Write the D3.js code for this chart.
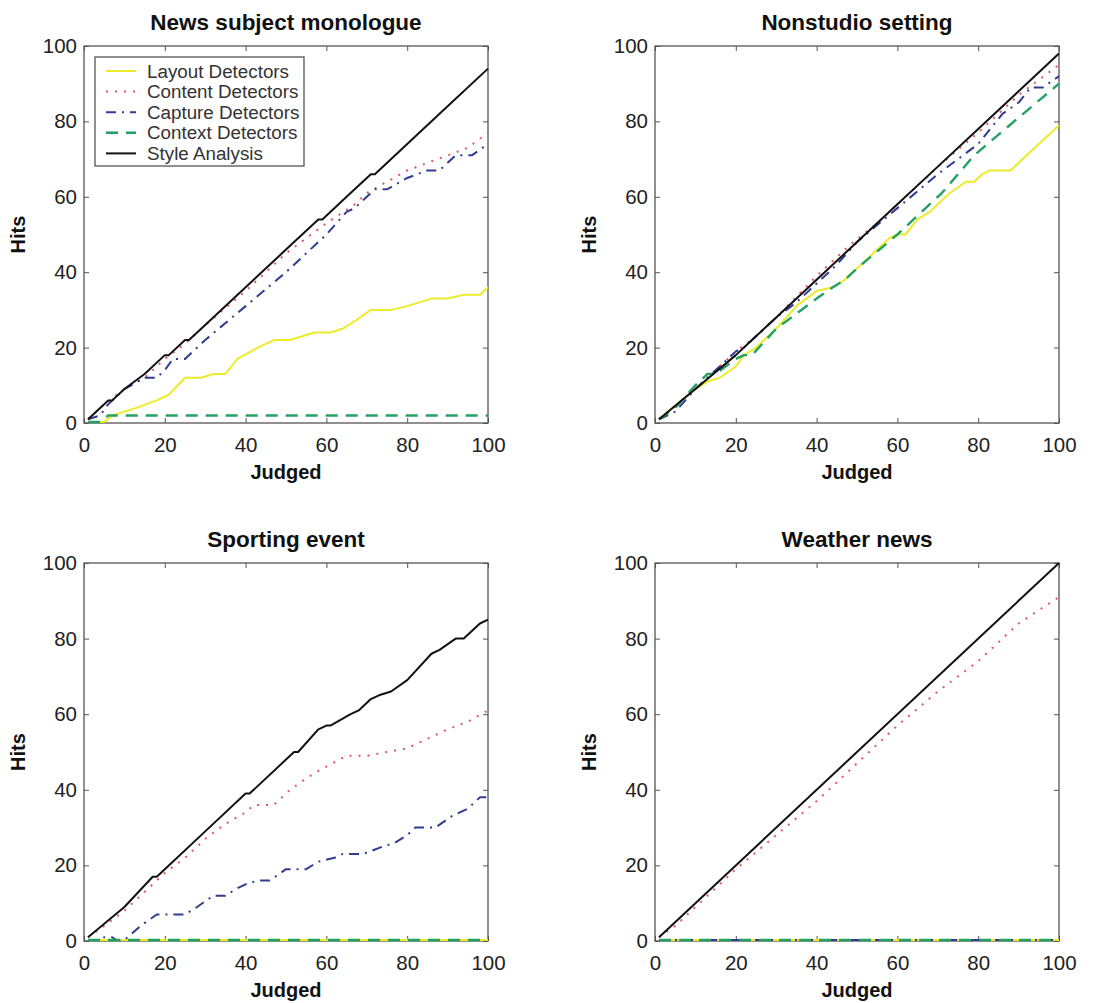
<!DOCTYPE html>
<html>
<head>
<meta charset="utf-8">
<script src="https://cdn.jsdelivr.net/npm/d3@7"></script>
<style>
  html, body { margin: 0; padding: 0; background: #fff; }
  svg { display: block; }
  text { font-family: "Liberation Sans", Arial, Helvetica, sans-serif; }
</style>
</head>
<body>
<svg id="chart" width="1097" height="1003"></svg>
<script>
// ---------------- DATA ----------------
const panelTitles = ["News subject monologue", "Nonstudio setting", "Sporting event", "Weather news"];
const seriesNames = ["Layout Detectors", "Content Detectors", "Capture Detectors", "Context Detectors", "Style Analysis"];
const xTicks = [0, 20, 40, 60, 80, 100];
const yTicks = [0, 20, 40, 60, 80, 100];
const xLabel = "Judged";
const yLabel = "Hits";

// News subject monologue  ([judged, hits])
const newsLayout  = [[1,0],[5,0],[7,2],[13,4],[18,6],[21,7.5],[25,12],[29,12],[32,13],[35,13],[38,17],[43,20],[47,22],[51,22],[54,23],[57,24],[61,24],[64,25],[67,27],[71,30],[76,30],[80,31],[83,32],[86,33],[90,33],[94,34],[98,34],[100,36]];
const newsContent = [[1,1],[5,5],[10,9],[15,12],[20,17],[25,21],[30,26],[40,35],[50,45],[60,53],[67,58],[70,61],[75,64],[80,67],[85,69],[90,71],[95,73],[100,77]];
const newsCapture = [[1,1],[4,2],[6,5],[10,9],[15,12],[18,12],[20,14],[22,17],[25,17],[30,22],[40,31],[50,40],[60,50],[65,56],[67,57],[70,60],[72,62],[75,62],[80,65],[85,67],[88,67],[92,71],[96,71],[100,74]];
const newsContext = [[1,0],[4,0],[6,2],[100,2]];
const newsStyle   = [[1,1],[5,5],[6,6],[7,6],[10,9],[15,13],[20,18],[21,18],[25,22],[26,22],[30,26],[40,36],[50,46],[58,54],[59,54],[65,60],[71,66],[72,66],[80,74],[90,84],[100,94]];

// Nonstudio setting
const nonLayout  = [[1,1],[10,9],[13,11],[16,12],[20,15],[22,18],[25,20],[30,25],[35,31],[40,35],[44,36],[47,38],[50,41],[58,49],[60,50],[62,50],[65,54],[68,56],[70,58],[73,61],[77,64],[79,64],[81,66],[83,67],[88,67],[92,71],[100,79]];
const nonContent = [[1,1],[10,9],[20,19],[25,23],[30,28],[40,39],[48,47],[55,53],[60,58],[70,68],[80,77],[90,87],[95,91],[100,95]];
const nonCapture = [[1,1],[5,3],[10,9],[20,19],[22,20],[30,28],[35,32],[40,37],[45,42],[50,48],[60,57],[70,66],[75,70],[80,74],[86,82],[90,85],[93,89],[96,89],[100,92]];
const nonContext = [[1,1],[5,4],[10,10],[13,13],[15,13],[20,17],[22,18],[24,18],[30,25],[40,33],[44,36],[47,38],[50,41],[60,50],[64,54],[71,61],[79,71],[90,81],[100,90]];
const nonStyle   = [[1,1],[10,9],[20,18],[23,21],[24,22],[30,28],[40,38],[50,48],[60,58],[70,68],[80,78],[90,88],[100,98]];

// Sporting event
const sportLayout  = [[1,0],[100,0]];
const sportContent = [[1,1],[5,4],[10,8],[20,18],[25,22],[30,27],[35,31],[40,34],[42,36],[47,36],[51,40],[55,43],[58,45],[65,49],[70,49],[75,50],[80,51],[86,54],[90,56],[95,58],[100,61]];
const sportCapture = [[1,0],[4,0],[5,1],[7,1],[8,0],[10,0],[14,4],[18,7],[22,7],[25,7],[28,9],[32,12],[35,12],[38,14],[40,15],[43,16],[46,16],[50,19],[55,19],[58,21],[62,22],[64,23],[69,23],[74,25],[77,26],[80,28],[82,30],[87,30],[91,33],[95,35],[98,38],[100,38]];
const sportContext = [[1,0],[100,0]];
const sportStyle   = [[1,1],[10,9],[17,17],[18,17],[20,19],[30,29],[40,39],[41,39],[50,48],[52,50],[53,50],[58,56],[60,57],[61,57],[66,60],[68,61],[71,64],[73,65],[76,66],[80,69],[86,76],[88,77],[92,80],[94,80],[96,82],[98,84],[100,85]];

// Weather news
const weatherLayout  = [[1,0],[100,0]];
const weatherContent = [[1,1],[5,4],[20,19],[40,37],[60,57],[70,66],[80,74],[90,84],[100,91]];
const weatherCapture = [[1,0],[100,0]];
const weatherContext = [[1,0],[100,0]];
const weatherStyle   = [[1,1],[100,100]];

const panelData = [
  [newsLayout, newsContent, newsCapture, newsContext, newsStyle],
  [nonLayout, nonContent, nonCapture, nonContext, nonStyle],
  [sportLayout, sportContent, sportCapture, sportContext, sportStyle],
  [weatherLayout, weatherContent, weatherCapture, weatherContext, weatherStyle]
];

// ---------------- STYLE ----------------
const seriesStyle = [
  { color: "#ecec2a", dash: null,        width: 2 },
  { color: "#e2566a", dash: "2,7",       width: 2 },
  { color: "#2f3c92", dash: "10,6,2,6",  width: 2 },
  { color: "#23a062", dash: "12,8",      width: 2.4 },
  { color: "#111111", dash: null,        width: 2 }
];

const panelBoxes = [
  { left: 84,  top: 46,  width: 404, height: 377 },
  { left: 655, top: 46,  width: 404, height: 377 },
  { left: 84,  top: 563, width: 404, height: 378 },
  { left: 655, top: 563, width: 404, height: 378 }
];

const svg = d3.select("#chart");

panelBoxes.forEach((b, pi) => {
  const g = svg.append("g").attr("transform", `translate(${b.left},${b.top})`);
  const x = d3.scaleLinear().domain([0, 100]).range([0, b.width]);
  const y = d3.scaleLinear().domain([0, 100]).range([b.height, 0]);

  // box (drawn first so zero-level lines sit on top of it)
  g.append("rect").attr("x", 0).attr("y", 0).attr("width", b.width).attr("height", b.height)
    .attr("fill", "none").attr("stroke", "#555").attr("stroke-width", 1.3);

  // axes (inward ticks, MATLAB style)
  const ax = g.append("g").attr("transform", `translate(0,${b.height})`)
    .call(d3.axisBottom(x).tickValues(xTicks).tickSize(-5).tickPadding(14).tickFormat(d3.format("d")));
  const ay = g.append("g")
    .call(d3.axisLeft(y).tickValues(yTicks).tickSize(-5).tickPadding(7).tickFormat(d3.format("d")));
  const at = g.append("g")
    .call(d3.axisTop(x).tickValues(xTicks).tickSize(-5).tickFormat(""));
  const ar = g.append("g").attr("transform", `translate(${b.width},0)`)
    .call(d3.axisRight(y).tickValues(yTicks).tickSize(-5).tickFormat(""));
  [ax, ay, at, ar].forEach(a => {
    a.select(".domain").remove();
    a.selectAll(".tick line").attr("stroke", "#555").attr("stroke-width", 1);
    a.selectAll(".tick text").attr("fill", "#222").style("font-size", "20.5px")
      .style("font-family", '"Liberation Sans", Arial, sans-serif');
  });

  // lines
  const line = d3.line().x(d => x(d[0])).y(d => y(d[1]) - (d[1] === 0 ? 1 : 0));
  panelData[pi].forEach((series, si) => {
    const st = seriesStyle[si];
    g.append("path").datum(series)
      .attr("d", line)
      .attr("fill", "none")
      .attr("stroke", st.color)
      .attr("stroke-width", st.width)
      .attr("stroke-dasharray", st.dash)
      .attr("stroke-linejoin", "round");
  });

  // title
  g.append("text").attr("x", b.width / 2).attr("y", -16)
    .attr("text-anchor", "middle").style("font-size", "22.5px").style("font-weight", "bold")
    .attr("fill", "#111").text(panelTitles[pi]);
  // x label
  g.append("text").attr("x", b.width / 2).attr("y", b.height + 56)
    .attr("text-anchor", "middle").style("font-size", "20px").style("font-weight", "bold")
    .attr("fill", "#111").text(xLabel);
  // y label
  g.append("text").attr("transform", `translate(${-59},${b.height / 2}) rotate(-90)`)
    .attr("text-anchor", "middle").style("font-size", "20px").style("font-weight", "bold")
    .attr("fill", "#111").text(yLabel);

  // legend in first panel
  if (pi === 0) {
    const lg = g.append("g").attr("transform", "translate(11,11)");
    lg.append("rect").attr("x", 0).attr("y", 0).attr("width", 209).attr("height", 109)
      .attr("fill", "#fff").attr("stroke", "#555").attr("stroke-width", 1.3);
    seriesNames.forEach((name, si) => {
      const st = seriesStyle[si];
      const yy = 14 + si * 20.6;
      lg.append("line").attr("x1", 11).attr("x2", 41).attr("y1", yy).attr("y2", yy)
        .attr("stroke", st.color).attr("stroke-width", st.width)
        .attr("stroke-dasharray", st.dash);
      lg.append("text").attr("x", 52).attr("y", yy).attr("dy", "0.35em")
        .style("font-size", "18.8px").attr("fill", "#333").text(name);
    });
  }
});
</script>
</body>
</html>
